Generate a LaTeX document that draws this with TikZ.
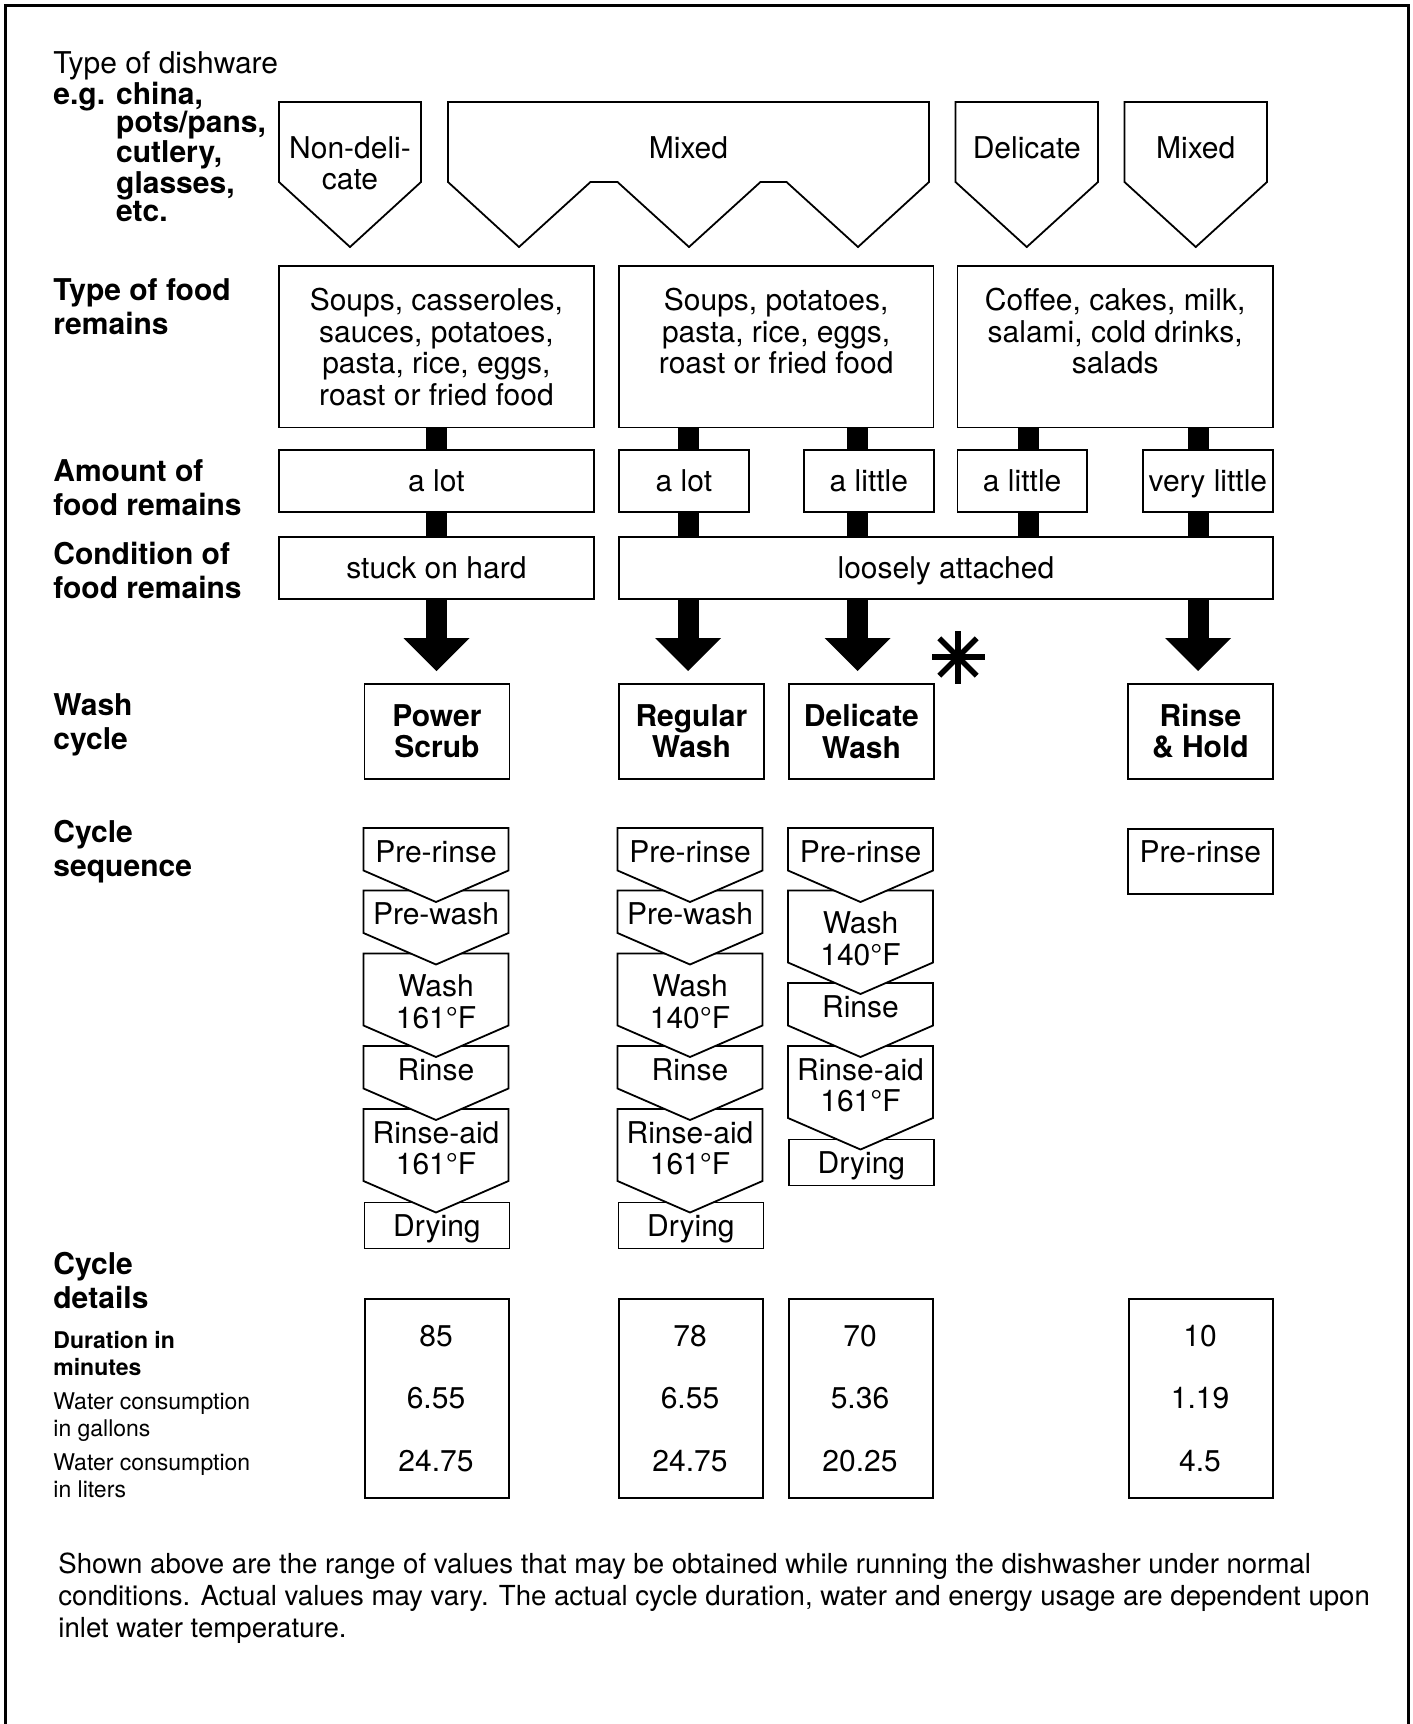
\documentclass[tikz,border=0pt]{standalone}
\usepackage{fontspec}
\setmainfont{TeX Gyre Heros}
\usetikzlibrary{calc,arrows.meta}
\def\u{0.5pt}
\def\fScale{\fontsize{15}{15.75}\selectfont}
\def\lScale{\fontsize{15}{17}\selectfont\bfseries}
\def\sScale{\fontsize{11.5}{13.25}\selectfont}
\def\nScale{\fontsize{13.8}{16}\selectfont}
\def\lineThickness{0.9pt}
\def\barWidth{10.5pt}
\def\colW{145}
\def\tipH{31.5}
\tikzset{box/.style={draw=black,line width=\lineThickness,fill=white,inner sep=0,anchor=north west,align=center,font=\fScale}}
\tikzset{sbox/.style={box,text height=10.8pt,text depth=0pt}}
\tikzset{txt/.style={inner sep=0,align=center,font=\fScale}}
\tikzset{lbl/.style={inner sep=0,align=left,anchor=north west,font=\lScale}}
\tikzset{chev/.style={draw=black,line width=\lineThickness,fill=white,line join=miter}}
\tikzset{bar/.style={black,line width=\barWidth}}
\tikzset{bigarr/.style={bar,-{Triangle[width=33pt,length=16.5pt,line width=0pt]},shorten >=6pt}}
\tikzset{astr/.style={black,line width=2.8pt}}
\tikzset{frame/.style={black,line width=1.5pt}}
\newcommand{\chevron}[8]{\draw[chev] (#2,#3) -- ++(#4,0) -- ++(0,#5) -- ++(-#4/2,#6) -- ++(-#4/2,-#6) -- cycle;\node[txt,anchor=north] (#1) at (#2+#4/2,#3+#7) {#8};}
\begin{document}
\begin{tikzpicture}[x=0.5pt,y=-0.5pt]
\useasboundingbox (0,0) rectangle (1413,1724);
\draw[frame] (5.5,1730) -- (5.5,5.5) -- (1408.5,5.5) -- (1408.5,1730);
% row labels
\node[lbl,font=\fontsize{15}{14}\selectfont] (hDish) at (53,51) {Type of dishware\\\textbf{e.g. china,}\\\textbf{\phantom{e.g. }pots/pans,}\\\textbf{\phantom{e.g. }cutlery,}\\\textbf{\phantom{e.g. }glasses,}\\\textbf{\phantom{e.g. }etc.}};
\node[lbl] (hFood) at (53,278) {Type of food\\remains};
\node[lbl] (hAmt) at (53,459) {Amount of\\food remains};
\node[lbl] (hCond) at (53,541.5) {Condition of\\food remains};
\node[lbl] (hWash) at (53,693) {Wash\\cycle};
\node[lbl] (hSeq) at (53,819.5) {Cycle\\sequence};
\node[lbl] (hDet) at (53,1252) {Cycle\\details};
\node[lbl,font=\sScale\bfseries] (hDur) at (53,1331) {Duration in\\minutes};
\node[lbl,font=\sScale] (hGal) at (53,1392.5) {Water consumption\\in gallons};
\node[lbl,font=\sScale] (hLit) at (53,1453.5) {Water consumption\\in liters};
% dishware
\chevron{dw1}{279}{102}{142}{80}{65}{34}{Non-deli-\\cate}
\draw[chev] (448,102) -- (929,102) -- (929,182) -- (858,247) -- (786.5,182) -- (760.5,182) -- (689,247) -- (617.5,182) -- (590.5,182) -- (519,247) -- (448,182) -- cycle;\node[txt,anchor=north] (dw2) at (688.5,136) {Mixed};
\chevron{dw3}{955.5}{102}{142.5}{80}{65}{34}{Delicate}
\chevron{dw4}{1124.5}{102}{142.5}{80}{65}{34}{Mixed}
% food remains
\node[box,minimum width=315*\u,minimum height=161.6*\u] (food1) at (278,265) {};
\node[box,minimum width=314.6*\u,minimum height=161.6*\u] (food2) at (618,265) {};
\node[box,minimum width=315.5*\u,minimum height=161.6*\u] (food3) at (956.5,265) {};
\node[txt,anchor=north] (food1t) at ($(food1.north)+(0,23)$) {Soups, casseroles,\\sauces, potatoes,\\pasta, rice, eggs,\\roast or fried food};
\node[txt,anchor=north] (food2t) at ($(food2.north)+(0,23)$) {Soups, potatoes,\\pasta, rice, eggs,\\roast or fried food};
\node[txt,anchor=north] (food3t) at ($(food3.north)+(0,23)$) {Coffee, cakes, milk,\\salami, cold drinks,\\salads};
\node[sbox,minimum width=315*\u,minimum height=61.7*\u] (amt1) at (278,449.3) {a lot};
\node[sbox,minimum width=130*\u,minimum height=61.7*\u] (amt2) at (618,449.3) {a lot};
\node[sbox,minimum width=130*\u,minimum height=61.7*\u] (amt3) at (803,449.3) {a little};
\node[sbox,minimum width=129.5*\u,minimum height=61.7*\u] (amt4) at (956.5,449.3) {a little};
\node[sbox,minimum width=130*\u,minimum height=61.7*\u] (amt5) at (1142,449.3) {very little};
\node[sbox,minimum width=315*\u,minimum height=62.3*\u] (cond1) at (278,536) {stuck on hard};
\node[sbox,minimum width=654*\u,minimum height=62.3*\u] (cond2) at (618,536) {loosely attached};
\coordinate (c1) at (436.5,0);\coordinate (c2) at (688,0);\coordinate (c3) at (857.5,0);\coordinate (c4) at (1028,0);\coordinate (c5) at (1198,0);
\draw[bar] (c1 |- food1.south) -- (c1 |- amt1.north);\draw[bar] (c1 |- amt1.south) -- (c1 |- cond1.north);
\foreach \c/\f in {2/2,3/2,4/3,5/3}{\draw[bar] (c\c |- food\f.south) -- (c\c |- amt\c.north);\draw[bar] (c\c |- amt\c.south) -- (c\c |- cond2.north);}
% wash cycles
\node[box,minimum width=145*\u,minimum height=95*\u,font=\fScale\bfseries] (ws1) at (363.5,683) {Power\\Scrub};
\node[box,minimum width=145*\u,minimum height=95*\u,font=\fScale\bfseries] (ws2) at (618,683) {Regular\\Wash};
\node[box,minimum width=145*\u,minimum height=95*\u,font=\fScale\bfseries] (ws3) at (788,683) {Delicate\\Wash};
\node[box,minimum width=145*\u,minimum height=95*\u,font=\fScale\bfseries] (ws4) at (1127,683) {Rinse\\\& Hold};
\draw[bigarr] (c1 |- cond1.south) -- (c1 |- ws1.north);
\draw[bigarr] (c2 |- cond2.south) -- (c2 |- ws2.north);
\draw[bigarr] (c3 |- cond2.south) -- (c3 |- ws3.north);
\draw[bigarr] (c5 |- cond2.south) -- (c5 |- ws4.north);
\coordinate (ast) at (958,657);\foreach\a in {0,45,90,135}{\draw[astr] ($(ast)+(\a:26.5)$) -- ($(ast)+(\a+180:26.5)$);}
% cycle sequence, drawn from the bottom up
\foreach \n/\x/\t in {ps/363.5/161,rw/617.5/140}{
\node[sbox,minimum width=\colW*\u,minimum height=46*\u] (\n6) at (\x,1201.5) {Drying};
\chevron{\n5}{\x}{1109}{\colW}{72}{\tipH}{12}{Rinse-aid\\161°F}
\chevron{\n4}{\x}{1046}{\colW}{42.5}{\tipH}{12}{Rinse}
\chevron{\n3}{\x}{953.5}{\colW}{72}{\tipH}{21}{Wash\\\t°F}
\chevron{\n2}{\x}{890.5}{\colW}{42.5}{\tipH}{12}{Pre-wash}
\chevron{\n1}{\x}{828}{\colW}{42.5}{\tipH}{12}{Pre-rinse}}
\node[sbox,minimum width=\colW*\u,minimum height=46*\u] (dw5s) at (788,1138.5) {Drying};
\chevron{dw4s}{788}{1046}{\colW}{72}{\tipH}{12}{Rinse-aid\\161°F}
\chevron{dw3s}{788}{983}{\colW}{42.5}{\tipH}{12}{Rinse}
\chevron{dw2s}{788}{890.5}{\colW}{72}{\tipH}{21}{Wash\\140°F}
\chevron{dw1s}{788}{828}{\colW}{42.5}{\tipH}{12}{Pre-rinse}
\node[box,minimum width=\colW*\u,minimum height=65*\u] (rh1) at (1127,828) {};\node[txt,anchor=north] (rh1t) at ($(rh1.north)+(0,12)$) {Pre-rinse};
% cycle details
\foreach \n/\x/\a/\b/\c in {1/364/85/6.55/24.75,2/618/78/6.55/24.75,3/788/70/5.36/20.25,4/1128/10/1.19/4.5}{
\node[box,minimum width=144*\u,minimum height=199*\u] (det\n) at (\x,1298) {};
\node[txt] (det\n a) at (\x+72,1336) {\a};\node[txt] (det\n b) at (\x+72,1398) {\b};\node[txt] (det\n c) at (\x+72,1461) {\c};}
\node[inner sep=0,anchor=north west,align=left,font=\nScale] (note) at (58,1552) {Shown above are the range of values that may be obtained while running the dishwasher under normal\\conditions. Actual values may vary. The actual cycle duration, water and energy usage are dependent upon\\inlet water temperature.};
\end{tikzpicture}
\end{document}
